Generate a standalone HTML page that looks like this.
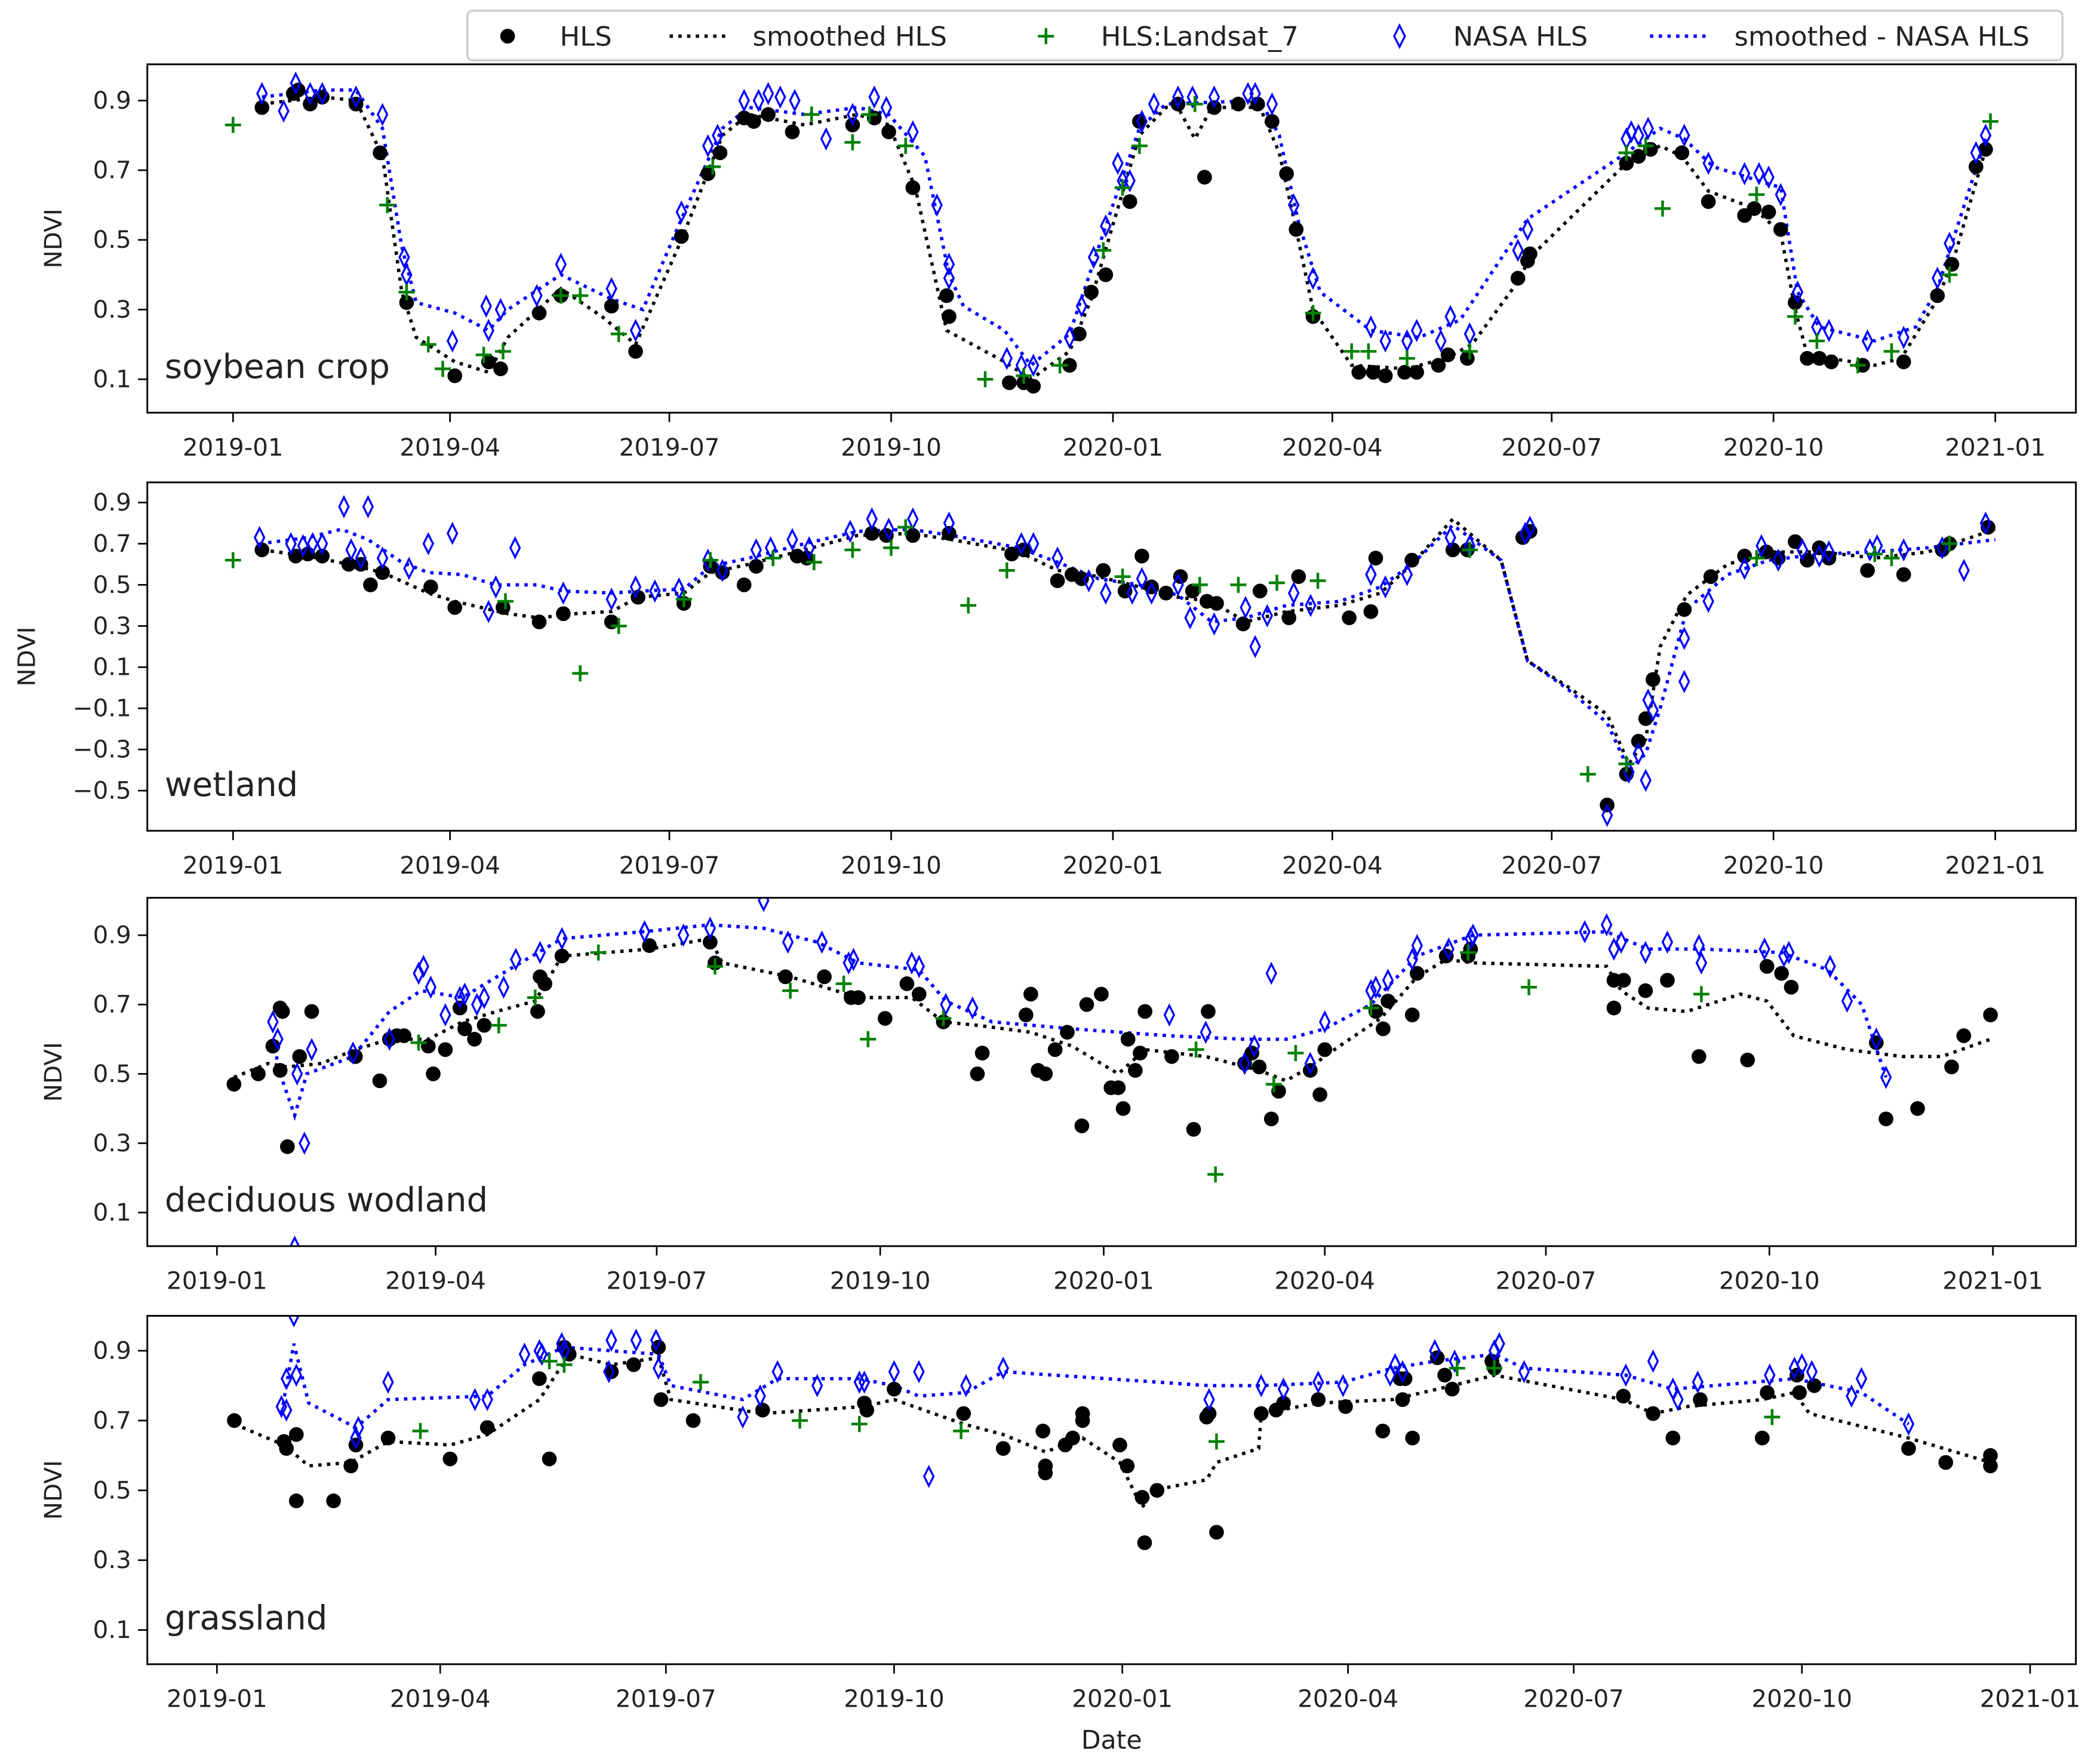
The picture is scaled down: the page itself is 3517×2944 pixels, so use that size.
<!DOCTYPE html>
<html><head><meta charset="utf-8">
<style>
html,body{margin:0;padding:0;background:#fff;}
svg{display:block;}
text{font-family:"DejaVu Sans","Liberation Sans",sans-serif;fill:#222;}
</style></head>
<body>
<svg id="chart" xmlns="http://www.w3.org/2000/svg" width="3517" height="2944" viewBox="0 0 1568 1312" preserveAspectRatio="none">
<g>
<rect x="349" y="8" width="1191" height="37" rx="4" fill="#fff" stroke="#ccc" stroke-width="1.5"/>
<circle cx="379" cy="27" r="5.5" fill="#000"/>
<text x="418" y="34" font-size="20">HLS</text>
<line x1="500" y1="27" x2="545" y2="27" stroke="#000" stroke-width="2.5" stroke-dasharray="2.5,4"/>
<text x="562" y="34" font-size="20">smoothed HLS</text>
<path d="M775 27h12M781 21v12" stroke="green" stroke-width="2"/>
<text x="822" y="34" font-size="20">HLS:Landsat_7</text>
<path d="M1045 19L1049 27L1045 35L1041 27Z" fill="none" stroke="blue" stroke-width="1.5"/>
<text x="1085" y="34" font-size="20">NASA HLS</text>
<line x1="1232" y1="27" x2="1277" y2="27" stroke="blue" stroke-width="2.5" stroke-dasharray="2.5,4"/>
<text x="1295" y="34" font-size="20">smoothed - NASA HLS</text>
</g>
<text x="830" y="1305" font-size="19" text-anchor="middle">Date</text>
</svg>
<script>
// ---- data: days since 2019-01-01, NDVI ----
const tickDays=[0,90,181,273,365,456,547,639,731];
const tickLabels=["2019-01","2019-04","2019-07","2019-10","2020-01","2020-04","2020-07","2020-10","2021-01"];

const soyHlsDays=[12,25,27,32,37,51,61,72,92,106,111,127,136,157,167,186,197,202,212,216,222,232,257,266,272,282,296,297,322,328,332,347,351,356,362,372,376,392,403,407,417,425,431,437,441,448,467,473,478,486,491,500,504,512,533,537,538,578,583,588,601,612,627,631,637,642,648,653,658,663,676,693,707,713,723,727];
const soyHlsNdvi=[0.88,0.92,0.93,0.89,0.91,0.89,0.75,0.32,0.11,0.15,0.13,0.29,0.34,0.31,0.18,0.51,0.69,0.75,0.85,0.84,0.86,0.81,0.83,0.85,0.81,0.65,0.34,0.28,0.09,0.09,0.08,0.14,0.23,0.35,0.40,0.61,0.84,0.89,0.68,0.88,0.89,0.89,0.84,0.69,0.53,0.28,0.12,0.12,0.11,0.12,0.12,0.14,0.17,0.16,0.39,0.44,0.46,0.72,0.74,0.76,0.75,0.61,0.57,0.59,0.58,0.53,0.32,0.16,0.16,0.15,0.14,0.15,0.34,0.43,0.71,0.76];
const soyL7Days=[0,64,72,81,87,104,112,136,144,160,199,240,257,264,279,312,328,343,361,369,376,399,448,464,471,487,513,578,586,593,632,648,657,674,688,712,729];
const soyL7Ndvi=[0.83,0.60,0.35,0.20,0.13,0.17,0.18,0.34,0.34,0.23,0.71,0.86,0.78,0.86,0.77,0.10,0.11,0.14,0.47,0.65,0.77,0.89,0.29,0.18,0.18,0.16,0.18,0.75,0.77,0.59,0.63,0.28,0.21,0.14,0.18,0.40,0.84];
const soyNasaDays=[12,21,26,32,37,51,62,71,72,91,105,106,111,126,136,157,167,186,197,201,212,218,222,227,233,246,257,266,271,282,292,297,297,321,327,332,347,352,357,362,367,369,372,377,382,392,398,407,421,424,431,440,448,472,478,487,491,501,505,513,533,537,578,580,583,587,602,612,627,633,637,642,649,657,662,678,693,707,712,723,727];
const soyNasaNdvi=[0.92,0.87,0.95,0.92,0.92,0.91,0.86,0.45,0.40,0.21,0.31,0.24,0.30,0.34,0.43,0.36,0.24,0.58,0.77,0.80,0.90,0.90,0.92,0.91,0.90,0.79,0.86,0.91,0.88,0.81,0.60,0.43,0.39,0.16,0.14,0.14,0.22,0.31,0.45,0.54,0.72,0.67,0.67,0.84,0.89,0.91,0.91,0.91,0.92,0.92,0.89,0.60,0.39,0.25,0.21,0.21,0.24,0.21,0.28,0.23,0.47,0.53,0.79,0.81,0.80,0.82,0.80,0.72,0.69,0.69,0.68,0.63,0.35,0.25,0.24,0.21,0.22,0.39,0.49,0.75,0.80];
const soySmHlsDays=[12,37,51,62,70,76,92,106,114,136,153,167,186,203,214,237,259,272,283,296,320,331,347,356,364,376,387,392,399,406,426,434,441,448,464,487,503,514,533,538,578,592,601,612,631,642,648,653,681,692,707,714,727];
const soySmHlsNdvi=[0.89,0.91,0.90,0.74,0.35,0.22,0.15,0.12,0.22,0.36,0.28,0.20,0.50,0.80,0.86,0.83,0.86,0.83,0.65,0.24,0.15,0.10,0.18,0.33,0.52,0.80,0.88,0.88,0.79,0.88,0.88,0.75,0.53,0.30,0.14,0.13,0.16,0.20,0.38,0.45,0.72,0.77,0.74,0.64,0.59,0.52,0.30,0.17,0.14,0.16,0.33,0.45,0.76];
const soySmNasaDays=[12,37,51,62,70,76,92,106,114,136,157,170,186,203,214,237,259,272,287,297,303,320,331,347,364,376,387,426,434,442,451,472,492,509,537,578,592,602,614,642,649,658,681,698,707,727];
const soySmNasaNdvi=[0.91,0.93,0.93,0.82,0.48,0.32,0.29,0.24,0.30,0.40,0.33,0.30,0.56,0.82,0.88,0.86,0.88,0.86,0.74,0.40,0.31,0.24,0.14,0.23,0.58,0.82,0.89,0.90,0.80,0.55,0.35,0.24,0.22,0.27,0.56,0.75,0.82,0.79,0.71,0.65,0.35,0.25,0.21,0.25,0.36,0.79];

const wetHlsDays=[12,26,31,37,48,53,57,62,82,92,112,127,137,157,168,187,198,203,212,217,234,238,265,271,282,297,323,328,342,348,352,361,370,377,381,387,393,398,404,408,419,426,438,442,463,472,474,489,506,512,535,538,570,578,583,586,589,602,613,627,636,641,648,653,658,662,678,693,709,712,728];
const wetHlsNdvi=[0.67,0.64,0.65,0.64,0.60,0.60,0.50,0.56,0.49,0.39,0.39,0.32,0.36,0.32,0.44,0.41,0.59,0.56,0.50,0.59,0.64,0.63,0.75,0.74,0.74,0.75,0.65,0.67,0.52,0.55,0.53,0.57,0.47,0.64,0.49,0.46,0.54,0.47,0.42,0.41,0.31,0.47,0.34,0.54,0.34,0.37,0.63,0.62,0.67,0.67,0.73,0.76,-0.57,-0.42,-0.26,-0.15,0.04,0.38,0.54,0.64,0.66,0.63,0.71,0.62,0.68,0.63,0.57,0.55,0.67,0.70,0.78];
const wetL7Days=[0,113,144,160,187,198,224,241,257,273,279,305,321,369,401,417,433,450,513,562,578,632,681,688,712];
const wetL7Ndvi=[0.62,0.42,0.07,0.30,0.43,0.62,0.63,0.61,0.67,0.68,0.78,0.40,0.57,0.54,0.50,0.50,0.51,0.52,0.67,-0.42,-0.37,0.63,0.65,0.63,0.70];
const wetNasaDays=[11,24,29,33,37,46,56,49,53,62,73,81,91,117,106,109,137,157,167,175,185,197,203,217,223,232,239,256,265,272,282,297,327,332,342,355,362,373,377,381,392,397,407,420,424,429,440,447,472,478,487,505,513,536,538,570,579,583,586,587,589,602,602,612,627,634,641,651,658,662,679,682,693,709,718,727];
const wetNasaNdvi=[0.73,0.70,0.69,0.70,0.70,0.88,0.88,0.67,0.63,0.63,0.58,0.70,0.75,0.68,0.37,0.49,0.46,0.43,0.49,0.47,0.48,0.62,0.57,0.67,0.68,0.72,0.68,0.76,0.82,0.77,0.82,0.80,0.70,0.70,0.63,0.52,0.46,0.46,0.53,0.46,0.50,0.34,0.31,0.39,0.20,0.35,0.46,0.40,0.55,0.49,0.55,0.73,0.69,0.75,0.78,-0.62,-0.41,-0.32,-0.45,-0.06,-0.11,0.24,0.03,0.42,0.58,0.69,0.62,0.67,0.64,0.66,0.67,0.69,0.67,0.68,0.57,0.80];
const wetSmHlsDays=[12,31,48,62,81,92,114,127,142,157,168,187,198,214,237,259,281,298,326,342,359,376,392,406,420,437,459,476,489,506,526,537,553,570,579,586,592,603,620,637,659,681,703,731];
const wetSmHlsNdvi=[0.67,0.64,0.60,0.56,0.46,0.42,0.36,0.34,0.36,0.37,0.44,0.46,0.56,0.60,0.67,0.74,0.75,0.72,0.66,0.57,0.54,0.49,0.44,0.42,0.32,0.37,0.40,0.46,0.60,0.82,0.62,0.13,0.01,-0.13,-0.37,-0.25,0.20,0.45,0.60,0.66,0.66,0.63,0.66,0.77];
const wetSmNasaDays=[11,31,45,56,70,81,95,109,126,137,157,170,187,198,214,237,259,281,298,326,342,359,376,392,406,420,437,459,476,489,506,526,537,553,570,579,586,592,603,620,637,659,681,703,731];
const wetSmNasaNdvi=[0.70,0.73,0.77,0.72,0.61,0.56,0.55,0.50,0.50,0.47,0.46,0.47,0.48,0.59,0.63,0.70,0.76,0.77,0.74,0.68,0.61,0.53,0.50,0.45,0.32,0.34,0.40,0.42,0.49,0.60,0.79,0.62,0.13,0.00,-0.17,-0.40,-0.32,-0.10,0.38,0.55,0.62,0.65,0.66,0.68,0.72];

const decHlsDays=[7,17,23,26,27,26,29,34,39,57,67,71,74,77,87,89,94,100,102,106,110,132,133,135,142,178,203,205,234,250,261,264,275,284,289,299,313,315,333,335,338,341,345,350,356,358,364,368,371,373,375,378,380,382,393,402,408,423,426,429,434,437,450,454,456,477,480,482,492,494,506,515,516,575,579,575,588,597,610,630,638,644,648,683,687,700,714,719,730];
const decHlsNdvi=[0.47,0.50,0.58,0.69,0.68,0.51,0.29,0.55,0.68,0.55,0.48,0.60,0.61,0.61,0.58,0.50,0.57,0.69,0.63,0.60,0.64,0.68,0.78,0.76,0.84,0.87,0.88,0.82,0.78,0.78,0.72,0.72,0.66,0.76,0.73,0.65,0.50,0.56,0.67,0.73,0.51,0.50,0.57,0.62,0.35,0.70,0.73,0.46,0.46,0.40,0.60,0.51,0.56,0.68,0.55,0.34,0.68,0.53,0.56,0.52,0.37,0.45,0.51,0.44,0.57,0.68,0.63,0.71,0.67,0.79,0.84,0.84,0.86,0.77,0.77,0.69,0.74,0.77,0.55,0.54,0.81,0.79,0.75,0.59,0.37,0.40,0.52,0.61,0.67];
const decL7Days=[83,116,131,157,205,236,258,268,299,403,411,435,444,475,515,540,611];
const decL7Ndvi=[0.59,0.64,0.72,0.85,0.81,0.74,0.76,0.60,0.66,0.57,0.21,0.47,0.56,0.69,0.85,0.75,0.73];
const decNasaDays=[23,25,33,36,39,56,71,83,85,88,94,100,102,107,110,118,123,133,142,176,192,203,235,249,260,262,286,289,300,311,392,407,423,427,434,450,456,475,477,482,492,494,507,516,517,563,572,575,578,588,597,610,611,637,645,647,664,671,683,687,32,225];
const decNasaNdvi=[0.65,0.60,0.50,0.30,0.57,0.56,0.60,0.79,0.81,0.75,0.67,0.72,0.73,0.70,0.72,0.75,0.83,0.85,0.89,0.91,0.90,0.92,0.88,0.88,0.82,0.83,0.82,0.81,0.70,0.69,0.67,0.62,0.53,0.58,0.79,0.53,0.65,0.74,0.75,0.77,0.83,0.87,0.86,0.89,0.90,0.91,0.93,0.86,0.88,0.85,0.88,0.87,0.82,0.86,0.84,0.85,0.81,0.71,0.60,0.49,0.0,1.0];
const decSmHlsDays=[7,21,29,43,57,71,87,101,115,131,142,178,203,208,236,264,286,299,313,335,352,371,382,407,429,440,450,462,479,494,506,517,572,578,589,605,627,638,649,671,694,710,730];
const decSmHlsNdvi=[0.49,0.53,0.52,0.53,0.57,0.60,0.60,0.65,0.68,0.71,0.84,0.86,0.89,0.82,0.78,0.72,0.72,0.65,0.64,0.62,0.58,0.50,0.57,0.55,0.51,0.48,0.52,0.58,0.66,0.78,0.83,0.82,0.81,0.74,0.69,0.68,0.73,0.71,0.61,0.57,0.55,0.55,0.60];
const decSmNasaDays=[23,26,32,37,56,71,84,101,120,142,175,203,225,247,264,289,300,319,352,392,423,440,456,475,494,517,572,589,611,644,663,677,687];
const decSmNasaNdvi=[0.60,0.50,0.38,0.50,0.55,0.68,0.74,0.72,0.80,0.89,0.91,0.93,0.92,0.88,0.82,0.80,0.71,0.65,0.63,0.61,0.60,0.60,0.63,0.70,0.84,0.90,0.91,0.86,0.86,0.85,0.80,0.70,0.49];

const graHlsDays=[7,27,28,32,32,47,54,56,69,94,109,130,134,140,142,159,168,178,179,192,220,261,262,273,301,317,333,334,334,342,345,349,349,364,367,373,374,379,399,400,403,421,427,430,444,455,470,477,478,479,482,492,495,498,514,515,567,579,587,598,623,625,637,638,644,682,697,715,715];
const graHlsNdvi=[0.70,0.64,0.62,0.66,0.47,0.47,0.57,0.63,0.65,0.59,0.68,0.82,0.59,0.91,0.89,0.84,0.86,0.91,0.76,0.70,0.73,0.75,0.73,0.79,0.72,0.62,0.67,0.55,0.57,0.63,0.65,0.70,0.72,0.63,0.57,0.48,0.35,0.50,0.71,0.72,0.38,0.72,0.73,0.75,0.76,0.74,0.67,0.82,0.76,0.82,0.65,0.88,0.83,0.79,0.87,0.85,0.77,0.72,0.65,0.76,0.65,0.78,0.83,0.78,0.80,0.62,0.58,0.60,0.57];
const graL7Days=[82,134,140,195,235,259,300,403,500,515,627];
const graL7Ndvi=[0.67,0.87,0.86,0.81,0.70,0.69,0.67,0.64,0.85,0.85,0.71];
const graNasaDays=[26,28,28,32,56,57,69,104,109,124,130,131,139,140,158,159,169,177,178,212,219,226,242,259,261,273,283,287,302,317,400,421,430,444,454,473,475,478,491,499,515,517,527,568,579,587,589,597,626,636,639,643,659,663,682,31];
const graNasaNdvi=[0.74,0.73,0.82,0.83,0.65,0.68,0.81,0.76,0.76,0.89,0.90,0.89,0.92,0.90,0.84,0.93,0.93,0.93,0.85,0.71,0.77,0.84,0.80,0.81,0.81,0.84,0.84,0.54,0.80,0.85,0.76,0.80,0.79,0.81,0.80,0.83,0.86,0.84,0.90,0.87,0.90,0.92,0.84,0.83,0.87,0.79,0.76,0.81,0.83,0.85,0.86,0.84,0.77,0.82,0.69,1.0];
const graSmHlsDays=[7,27,37,54,69,94,109,130,142,159,178,183,220,261,273,301,317,334,349,364,373,377,399,403,420,421,444,474,498,515,567,579,593,623,636,642,682,715];
const graSmHlsNdvi=[0.69,0.63,0.57,0.58,0.64,0.63,0.66,0.76,0.89,0.86,0.88,0.76,0.72,0.74,0.76,0.69,0.66,0.61,0.65,0.58,0.45,0.50,0.53,0.58,0.62,0.72,0.75,0.76,0.80,0.83,0.76,0.72,0.74,0.76,0.78,0.72,0.65,0.58];
const graSmNasaDays=[26,31,37,56,69,109,124,140,159,178,183,212,226,259,273,283,302,317,400,421,454,474,491,515,527,568,587,636,663,682];
const graSmNasaNdvi=[0.72,0.92,0.75,0.68,0.76,0.77,0.86,0.91,0.90,0.89,0.80,0.76,0.82,0.82,0.80,0.77,0.78,0.84,0.80,0.80,0.81,0.85,0.87,0.89,0.85,0.83,0.79,0.82,0.78,0.69];

const NS="http://www.w3.org/2000/svg";
const svg=document.getElementById('chart');
function mk(tag,attrs,parent){const e=document.createElementNS(NS,tag);for(const k in attrs)e.setAttribute(k,attrs[k]);(parent||svg).appendChild(e);return e;}

const panels=[
 {key:'soybean',label:'soybean crop',top:48,bot:308,ymin:0.004,ymax:1.004,x0:174,pxd:1.8,yt:[0.1,0.3,0.5,0.7,0.9],ylx:40,
  hd:soyHlsDays,hv:soyHlsNdvi,ld:soyL7Days,lv:soyL7Ndvi,nd:soyNasaDays,nv:soyNasaNdvi,shd:soySmHlsDays,shv:soySmHlsNdvi,snd:soySmNasaDays,snv:soySmNasaNdvi},
 {key:'wetland',label:'wetland',top:360,bot:620,ymin:-0.695,ymax:0.998,x0:174,pxd:1.8,yt:[-0.5,-0.3,-0.1,0.1,0.3,0.5,0.7,0.9],ylx:20,
  hd:wetHlsDays,hv:wetHlsNdvi,ld:wetL7Days,lv:wetL7Ndvi,nd:wetNasaDays,nv:wetNasaNdvi,shd:wetSmHlsDays,shv:wetSmHlsNdvi,snd:wetSmNasaDays,snv:wetSmNasaNdvi},
 {key:'deciduous',label:'deciduous wodland',top:670,bot:930,ymin:0.003,ymax:1.008,x0:162,pxd:1.814,yt:[0.1,0.3,0.5,0.7,0.9],ylx:40,
  hd:decHlsDays,hv:decHlsNdvi,ld:decL7Days,lv:decL7Ndvi,nd:decNasaDays,nv:decNasaNdvi,shd:decSmHlsDays,shv:decSmHlsNdvi,snd:decSmNasaDays,snv:decSmNasaNdvi},
 {key:'grassland',label:'grassland',top:982,bot:1242,ymin:0.002,ymax:1.0,x0:162,pxd:1.852,yt:[0.1,0.3,0.5,0.7,0.9],ylx:40,
  hd:graHlsDays,hv:graHlsNdvi,ld:graL7Days,lv:graL7Ndvi,nd:graNasaDays,nv:graNasaNdvi,shd:graSmHlsDays,shv:graSmHlsNdvi,snd:graSmNasaDays,snv:graSmNasaNdvi}
];
const L=110,R=1550;
panels.forEach((p,i)=>{
 const xs=d=>p.x0+d*p.pxd;
 const ys=v=>p.bot-(v-p.ymin)/(p.ymax-p.ymin)*(p.bot-p.top);
 const g=mk('g',{});
 
 
 const cp=mk('clipPath',{id:'clip'+i},g);
 mk('rect',{x:L,y:p.top,width:R-L,height:p.bot-p.top},cp);
 p.yt.forEach(v=>{
  const y=ys(v);
  mk('line',{x1:L-7,y1:y,x2:L,y2:y,stroke:'#000','stroke-width':1.2},g);
  const t=mk('text',{x:L-12,y:y+6,'font-size':18,'text-anchor':'end'},g);
  
  
  t.textContent=(v<0?'\u2212':'')+Math.abs(v).toFixed(1);
 });
 tickDays.forEach((d,k)=>{
  const x=xs(d);
  mk('line',{x1:x,y1:p.bot,x2:x,y2:p.bot+7,stroke:'#000','stroke-width':1.2},g);
  const t=mk('text',{x:x,y:p.bot+32,'font-size':18,'text-anchor':'middle'},g);
  
  
  t.textContent=tickLabels[k];
 });
 const yl=mk('text',{x:p.ylx,y:(p.top+p.bot)/2,'font-size':18,'text-anchor':'middle',transform:`rotate(-90 ${p.ylx} ${(p.top+p.bot)/2})`,dy:6},g);
 
 
 yl.textContent='NDVI';
 const pg=mk('g',{'clip-path':`url(#clip${i})`},g);
 const line=(ds,vs,col,name)=>{
  const pts=ds.map((d,k)=>xs(d).toFixed(1)+','+ys(vs[k]).toFixed(1)).join(' ');
  const pl=mk('polyline',{points:pts,fill:'none',stroke:col,'stroke-width':2.5,'stroke-dasharray':'2.5,4'},pg);
  
  
 };
 line(p.shd,p.shv,'#000','smoothed-hls-line');
 line(p.snd,p.snv,'blue','smoothed-nasa-hls-line');
 p.hd.forEach((d,k)=>{
  const c=mk('circle',{cx:xs(d),cy:ys(p.hv[k]),r:5.5,fill:'#000'},pg);
  
  
 });
 p.nd.forEach((d,k)=>{
  const x=xs(d),y=ys(p.nv[k]);
  const dm=mk('path',{d:`M${x} ${y-7}L${x+3.5} ${y}L${x} ${y+7}L${x-3.5} ${y}Z`,fill:'none',stroke:'blue','stroke-width':1.5},pg);
  
  
 });
 p.ld.forEach((d,k)=>{
  const x=xs(d),y=ys(p.lv[k]);
  const pl=mk('path',{d:`M${x-6} ${y}h12M${x} ${y-6}v12`,stroke:'green','stroke-width':2},pg);
  
  
 });
 mk('rect',{x:L,y:p.top,width:R-L,height:p.bot-p.top,fill:'none',stroke:'#000','stroke-width':1.3},g);
 const lb=mk('text',{x:123,y:p.bot-26,'font-size':25},g);
 
 
 lb.textContent=p.label;
});
</script>
</body></html>
